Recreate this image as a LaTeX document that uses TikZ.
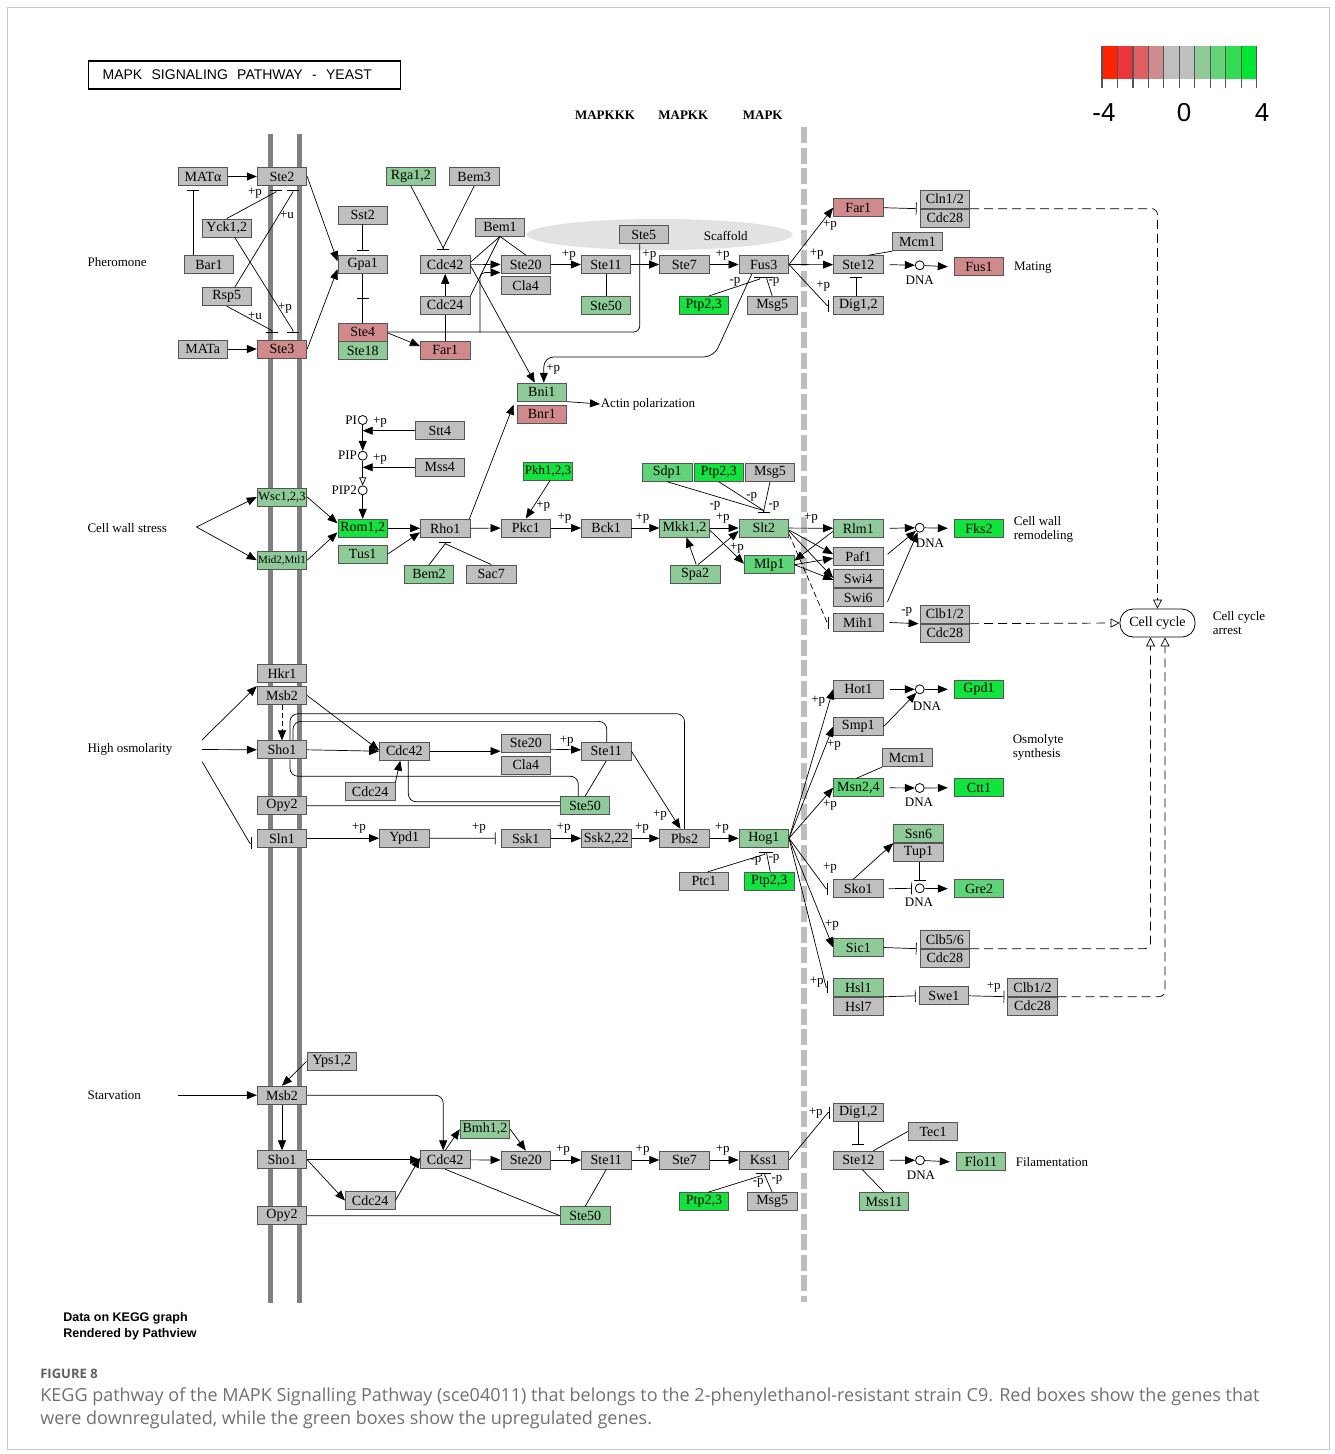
\documentclass[tikz,border=0pt]{standalone}
\usepackage{fontspec}
\setmainfont{Liberation Serif}
\newfontfamily\sansfont{Liberation Sans}
\newfontfamily\capfont{Open Sans}
\usepackage{xcolor}
\usepackage{tikz}
\usetikzlibrary{arrows.meta,positioning,calc}
\definecolor{kgray}{RGB}{191,191,191}
\definecolor{kedge}{RGB}{85,85,85}
\definecolor{kred}{RGB}{209,138,140}
\definecolor{kgreen}{RGB}{143,203,152}
\definecolor{kgreenmid}{RGB}{96,212,120}
\definecolor{kgreenhi}{RGB}{18,228,62}
\definecolor{kmem}{RGB}{128,128,128}
\definecolor{kwall}{RGB}{190,190,190}
\definecolor{kscaf}{RGB}{226,226,226}
\definecolor{capgray}{RGB}{112,112,112}
\definecolor{lgA}{RGB}{255,34,0}
\definecolor{lgB}{RGB}{236,52,60}
\definecolor{lgC}{RGB}{222,96,96}
\definecolor{lgD}{RGB}{207,140,140}
\definecolor{lgE}{RGB}{191,191,191}
\definecolor{lgG}{RGB}{145,202,150}
\definecolor{lgH}{RGB}{100,212,120}
\definecolor{lgI}{RGB}{52,220,84}
\definecolor{lgJ}{RGB}{0,230,50}
\newcommand\genefont{\fontsize{14}{14}\selectfont}
\newcommand\lblfont{\fontsize{13}{13.5}\selectfont}
\newcommand\tightfont{\fontsize{11}{11}\selectfont}

\begin{document}
\begin{tikzpicture}[x=1pt, y=-1pt, line width=0.7pt]
  \tikzset{gene/.style={draw=kedge, fill=kgray, line width=0.9pt, minimum width=49.5pt, minimum height=18pt, inner sep=0pt, font=\genefont}, down/.style={gene, fill=kred}, upA/.style={gene, fill=kgreen}, upB/.style={gene, fill=kgreenmid}, upC/.style={gene, fill=kgreenhi}, dna/.style={circle, draw, minimum size=9pt, inner sep=0pt, line width=0.8pt}, lbl/.style={font=\lblfont, inner sep=0.5pt}, plbl/.style={font=\lblfont, inner sep=0.3pt}, hdr/.style={font=\bfseries\lblfont}}
  \tikzset{act/.style={-{Triangle[length=10pt,width=8pt]}}, inh/.style={-{Bar[width=12pt]}}, cc/.style={dash pattern=on 9pt off 5pt, -{Triangle[open,length=9pt,width=9pt]}, rounded corners=6pt}}
  \useasboundingbox (0,0) rectangle (1335,1454);
  \draw[gray!45, line width=0.8pt] (7,7) rectangle (1329,1449);

  % membrane and cell wall
  \draw[kmem, line width=5pt] (270,134) -- (270,1303);
  \draw[kmem, line width=5pt] (299,134) -- (299,1303);
  \draw[kwall, line width=6.3pt, dash pattern=on 16pt off 4.5pt] (804,127) -- (804,1302);
  \fill[kscaf] (659.7,234.5) ellipse [x radius=133pt, y radius=15.5pt];

  % title and legend
  \node[draw, line width=1.3pt, anchor=west, text width=284pt, align=left, inner xsep=14pt, minimum height=28pt, font=\sansfont\fontsize{14}{14}\selectfont] (title) at (88,75) {MAPK\ \ SIGNALING\ \ PATHWAY\ \ -\ \ YEAST};
  \foreach \c [count=\i from 0] in {lgA,lgB,lgC,lgD,lgE,lgE,lgG,lgH,lgI,lgJ}
    \fill[\c] (1102+15.47*\i,45.7) rectangle ++(15.47,33);
  \foreach \i in {0,...,10}
    \draw[kedge, line width=1.1pt] (1102+15.47*\i,45.7) -- ++(0,42);
  \node[font=\sansfont\fontsize{26}{26}\selectfont] (lgmin) at (1104,112.5) {-4};
  \node[font=\sansfont\fontsize{26}{26}\selectfont] (lgmid) at (1184,112.5) {0};
  \node[font=\sansfont\fontsize{26}{26}\selectfont] (lgmax) at (1262,112.5) {4};

  \node[hdr] (hKKK) at (605,115) {MAPKKK};
  \node[hdr] (hKK) at (683.3,115) {MAPKK};
  \node[hdr] (hK) at (762.7,115) {MAPK};

  % pheromone
  \node[lbl, anchor=west] (pher) at (86.7,262.5) {Pheromone};
  \node[gene] (MATalpha) at (203,176.5) {MATα};
  \node[gene] (Ste2) at (282,176.5) {Ste2};
  \node[gene] (Yck) at (226.7,228) {Yck1,2};
  \node[gene] (Bar1) at (209,264.5) {Bar1};
  \node[gene] (Rsp5) at (226.7,296.7) {Rsp5};
  \node[gene] (MATa) at (202.7,349) {MATa};
  \node[down] (Ste3) at (282,349) {Ste3};
  \node[gene] (Sst2) at (362.7,215) {Sst2};
  \node[gene] (Gpa1) at (362.7,264.3) {Gpa1};
  \node[down] (Ste4) at (362.7,332) {Ste4};
  \node[upA, below=0pt of Ste4] (Ste18) {Ste18};
  \node[upA] (Rga) at (410.8,176.5) {Rga1,2};
  \node[gene] (Bem3) at (474.2,176.5) {Bem3};
  \node[gene] (Bem1) at (500,227) {Bem1};
  \node[gene] (pCdc42) at (445.2,264.3) {Cdc42};
  \node[gene] (pCdc24) at (445.2,305.2) {Cdc24};
  \node[down] (pFar1) at (445.2,350) {Far1};
  \node[gene] (pSte20) at (525.7,264.5) {Ste20};
  \node[gene, below=2pt of pSte20] (pCla4) {Cla4};
  \node[gene] (Ste5) at (643.7,234.5) {Ste5};
  \node[lbl] (scaf) at (725.7,236) {Scaffold};
  \node[gene] (pSte11) at (606,264.5) {Ste11};
  \node[upA] (pSte50) at (606,305.5) {Ste50};
  \node[gene] (pSte7) at (684.3,264.5) {Ste7};
  \node[gene] (Fus3) at (763.8,264.5) {Fus3};
  \node[upC] (pPtp) at (703.7,305.5) {Ptp2,3};
  \node[gene] (pMsg5) at (772.2,305.5) {Msg5};
  \node[upA] (Bni1) at (541.8,392.2) {Bni1};
  \node[down, below=3pt of Bni1] (Bnr1) {Bnr1};
  \node[lbl, anchor=west] (actin) at (600,404) {Actin polarization};
  \node[down] (mFar1) at (858.3,207.7) {Far1};
  \node[gene] (Cln12) at (944.8,199.2) {Cln1/2};
  \node[gene, below=0pt of Cln12] (Cdc28a) {Cdc28};
  \node[gene] (pMcm1) at (917.5,241.7) {Mcm1};
  \node[gene] (pSte12) at (858.3,264.7) {Ste12};
  \node[gene] (pDig) at (858.3,305.5) {Dig1,2};
  \node[dna] (dna1) at (919.7,265.3) {};
  \node[lbl] (dna1t) at (919.7,280.5) {DNA};
  \node[down] (Fus1) at (979,266.7) {Fus1};
  \node[lbl, anchor=west] (mating) at (1013.3,267.3) {Mating};

  \draw[act] (MATalpha) -- (Ste2);
  \draw[act] (MATa) -- (Ste3);
  \draw[inh] ([xshift=-16pt]Bar1.north) -- ([xshift=-10pt,yshift=-4pt]MATalpha.south);
  \draw[inh] (Yck.north) -- ([xshift=-6pt,yshift=-6pt]Ste2.south) -- ++(0,-2);
  \draw[inh] ([xshift=8pt]Rsp5.north) -- ([xshift=11pt,yshift=-6pt]Ste2.south) -- ++(0,-2);
  \draw[inh] ([xshift=8pt]Yck.south) -- ([xshift=11pt,yshift=9pt]Ste3.north) -- ++(0,2);
  \draw[inh] (Rsp5.south) -- ([xshift=-10pt,yshift=9pt]Ste3.north) -- ++(0,2);
  \node[plbl] (t1) at (255,193) {+p};
  \node[plbl] (t2) at (287,215) {+u};
  \node[plbl] (t3) at (285,308.3) {+p};
  \node[plbl] (t4) at (255,316) {+u};
  \draw[act] (Ste2.east) -- ([yshift=3pt]Gpa1.west);
  \draw[act] (Ste3.east) -- ([yshift=-5pt]Gpa1.west);
  \draw[inh] (Sst2.south) -- ([yshift=4pt]Gpa1.north);
  \draw[inh] (Gpa1.south) -- ([yshift=24pt]Ste4.north);
  \draw ([yshift=24pt]Ste4.north) -- (Ste4.north);
  \draw[act] ([yshift=-1pt]Ste4.east) -- ([yshift=4pt]pFar1.west);
  \draw[rounded corners=6pt] (Ste4.east) -| ([xshift=-4pt]Ste5.south);
  \coordinate (ste4fork) at (480,332);
  \draw[act, rounded corners=5pt] (ste4fork) |- ([yshift=-8pt]pSte20.west);
  \draw[act] (pCdc24) -- (pCdc42);
  \draw (pFar1) -- (pCdc24);
  \draw[inh] (Rga.south) -- ([xshift=-2pt,yshift=7pt]pCdc42.north) -- ++(0,2);
  \draw[inh] (Bem3.south) -- ([xshift=-2pt,yshift=7pt]pCdc42.north) -- ++(0,2);
  \draw[act] (pCdc42) -- (pSte20);
  \draw (Bem1.south) -- ([yshift=2pt]pCdc42.east);
  \draw (Bem1.south) -- (pCdc24.north east);
  \draw (Bem1.south) -- (pSte20.north);
  \draw[act] ([yshift=-1pt]pCdc42.east) -- ([xshift=-7pt]Bni1.north);
  \draw[act] (pSte20) -- node[plbl, pos=.6, above=4pt] {+p} (pSte11);
  \draw[act] (pSte11) -- node[plbl, pos=.65, above=4pt] {+p} (pSte7);
  \draw[act] (pSte7) -- node[plbl, pos=.45, above=4pt] {+p} (Fus3);
  \draw (pSte11) -- (pSte50);
  \draw[inh] ([xshift=5pt]pPtp.north) -- ([xshift=-4pt,yshift=-5pt]Fus3.south) -- ++(0,-2);
  \draw[inh] (pMsg5.north) -- ([xshift=3pt,yshift=-5pt]Fus3.south) -- ++(0,-2);
  \node[plbl] (t5) at (735,281.7) {-p};
  \node[plbl] (t6) at (774,281.7) {-p};
  \draw[act, rounded corners=10pt] ([xshift=-12pt]Fus3.south) -- ++(-38,83) -| ([xshift=2pt]Bni1.north);
  \node[plbl] (t7) at (553.3,369.3) {+p};
  \draw[act] (Bni1.south east) -- (actin.west);
  \draw[act] (Fus3.east) -- (mFar1.west);
  \draw[act] (Fus3) -- (pSte12);
  \draw[inh] (Fus3.east) -- ([xshift=-6pt]pDig.west) -- ++(2,0);
  \node[plbl] (t8) at (830,225) {+p};
  \node[plbl] (t9) at (816.7,254) {+p};
  \node[plbl] (t10) at (823.3,286) {+p};
  \draw[inh] (mFar1.east) -- ([xshift=-3pt]Cln12.south west);
  \draw (pMcm1.south west) -- ([xshift=10pt]pSte12.north);
  \draw[inh] ([xshift=-2pt]pDig.north) -- ([xshift=-2pt,yshift=-3pt]pSte12.south);
  \draw[act] ([xshift=6pt]pSte12.east) -- (dna1);
  \draw[act] (dna1) -- ([xshift=-6pt]Fus1.west);

  % cell wall stress
  \node[lbl, anchor=west] (cwstress) at (86.7,528.3) {Cell wall stress};
  \coordinate (cws) at (196.5,527);
  \node[upA, font=\fontsize{12.5}{12}\selectfont] (Wsc) at (282,497) {Wsc1,2,3};
  \node[upA, font=\tightfont] (Mid2) at (282,560.2) {Mid2,Mtl1};
  \node[upC] (Rom) at (362.7,528.3) {Rom1,2};
  \node[upA] (Tus1) at (362.7,554) {Tus1};
  \node[gene] (Rho1) at (445.2,528.3) {Rho1};
  \node[upA] (Bem2) at (429,574.3) {Bem2};
  \node[gene] (Sac7) at (491.3,574) {Sac7};
  \node[gene] (Stt4) at (439.8,430.7) {Stt4};
  \node[gene] (Mss4) at (439.8,467.3) {Mss4};
  \node[dna, label={[lbl]left:PI}] (PI) at (362.7,420) {};
  \node[dna, label={[lbl]left:PIP}] (PIP) at (362.7,455.7) {};
  \node[dna, label={[lbl]left:PIP2}] (PIP2) at (362.7,490.3) {};
  \node[upC, font=\fontsize{13}{13}\selectfont] (Pkh) at (548,471.2) {Pkh1,2,3};
  \node[gene] (Pkc1) at (525.8,528) {Pkc1};
  \node[gene] (Bck1) at (606.2,528) {Bck1};
  \node[upA] (Mkk) at (684.5,528) {Mkk1,2};
  \node[upA] (Slt2) at (763.8,528) {Slt2};
  \node[upB] (Mlp1) at (769.2,564.7) {Mlp1};
  \node[upA] (Spa2) at (695.2,574) {Spa2};
  \node[upB] (Sdp1) at (667.2,472.3) {Sdp1};
  \node[upC] (cPtp) at (718.8,472.3) {Ptp2,3};
  \node[gene] (cMsg5) at (770,472.3) {Msg5};
  \node[upA] (Rlm1) at (858.3,528.3) {Rlm1};
  \node[dna] (dna2) at (919.7,527.7) {};
  \node[lbl] (dna2t) at (930,543.3) {DNA};
  \node[upC] (Fks2) at (979,528.3) {Fks2};
  \node[lbl, anchor=west, align=left] (cwrem) at (1013,529.5) {Cell wall\\remodeling};
  \node[gene] (Paf1) at (858.3,556.2) {Paf1};
  \node[gene] (Swi4) at (858.3,578.8) {Swi4};
  \node[gene, below=0pt of Swi4] (Swi6) {Swi6};
  \node[gene] (Mih1) at (858.3,622.5) {Mih1};
  \node[gene] (Clb12a) at (944.8,614.2) {Clb1/2};
  \node[gene, below=0pt of Clb12a] (Cdc28b) {Cdc28};
  \node[draw, rounded corners=13pt, minimum width=75pt, minimum height=28pt, font=\genefont, line width=0.8pt] (CellCycle) at (1157.5,623) {Cell cycle};
  \node[lbl, anchor=west, align=left] (ccarrest) at (1212,623) {Cell cycle\\arrest};

  \draw[act] (cws) -- (Wsc.west);
  \draw[act] (cws) -- (Mid2.west);
  \draw[act] (Wsc.east) -- ([yshift=5pt]Rom.west);
  \draw[act] (Mid2.east) -- ([yshift=-4pt]Rom.west);
  \draw[act] (Rom) -- (Rho1);
  \draw[act] (Tus1.east) -- ([yshift=-4pt]Rho1.west);
  \draw[inh] (Bem2.north) -- ([yshift=-6pt]Rho1.south) -- ++(0,-2);
  \draw[inh] (Sac7.north) -- ([yshift=-6pt]Rho1.south) -- ++(0,-2);
  \draw[act] ([xshift=-1pt]Rho1.north east) -- ([xshift=-3pt]Bnr1.north west);
  \draw[act] (PI) -- (PIP);
  \draw[act] (Stt4.west) -- (PI |- Stt4.west);
  \draw[act] (Mss4.west) -- (PIP |- Mss4.west);
  \node[plbl] (t11) at (380,422.7) {+p};
  \node[plbl] (t12) at (380,459) {+p};
  \draw[-{Triangle[open,length=8pt,width=7pt]}] (PIP) -- (PIP2);
  \draw[act] (PIP2) -- (Rom);
  \draw[act] ([xshift=2pt]Pkh.south) -- (Pkc1.north);
  \node[plbl] (t13) at (543.3,506) {+p};
  \draw[act] (Rho1) -- (Pkc1);
  \draw[act] (Pkc1) -- node[plbl, pos=.45, above=4pt] {+p} (Bck1);
  \draw[act] (Bck1) -- node[plbl, pos=.4, above=4pt] {+p} (Mkk);
  \draw[act] (Mkk) -- node[plbl, pos=.45, above=4pt] {+p} (Slt2);
  \draw[act] ([yshift=-2pt]Mkk.east) -- ([yshift=1pt]Mlp1.west);
  \node[plbl] (t14) at (737,548.3) {+p};
  \draw[act] ([xshift=1pt]Spa2.north) -- ([xshift=2pt]Mkk.south);
  \draw[act] ([xshift=3pt]Spa2.north) -- ([yshift=-3pt]Slt2.west);
  \draw[inh] (Sdp1.south) -- ([yshift=8pt]Slt2.north) -- ++(0,2);
  \draw[inh] (cPtp.south) -- ([yshift=8pt]Slt2.north) -- ++(0,2);
  \draw[inh] (cMsg5.south) -- ([yshift=8pt]Slt2.north) -- ++(0,2);
  \node[plbl] (t15) at (715,506) {-p};
  \node[plbl] (t16) at (751.7,496.7) {-p};
  \node[plbl] (t17) at (774,506) {-p};
  \draw[act] (Slt2) -- node[plbl, pos=.5, above=4pt] {+p} (Rlm1);
  \draw[act] ([yshift=-2pt]Slt2.east) -- ([yshift=2pt]Paf1.west);
  \draw[act] ([yshift=-3pt]Slt2.east) -- ([yshift=1pt]Swi4.west);
  \draw[act] (Mlp1.east) -- ([yshift=-2pt]Paf1.west);
  \draw[act] (Mlp1.east) -- ([yshift=-1pt]Swi4.west);
  \draw[act] ([yshift=-3pt]Rlm1.west) -- ([yshift=4pt]Mlp1.east);
  \draw[inh, dash pattern=on 6pt off 3pt] ([yshift=-6pt]Slt2.east) -- ([xshift=-6pt]Mih1.west) -- ++(2,0);
  \draw[act] ([xshift=6pt]Rlm1.east) -- (dna2);
  \draw[act] ([xshift=4pt,yshift=2pt]Paf1.east) -- (dna2);
  \draw[act] ([xshift=4pt,yshift=-4pt]Swi6.east) -- (dna2);
  \draw[act] (dna2) -- ([xshift=-6pt]Fks2.west);
  \draw[act] ([xshift=6pt]Mih1.east) -- ([xshift=-1pt]Clb12a.south west);
  \node[plbl] (t18) at (906.7,612.3) {-p};
  \draw[cc] (Clb12a.south east) -- (CellCycle.west);
  \draw[cc] (Cln12.south east) -| (CellCycle.north);

  % high osmolarity
  \node[lbl, anchor=west] (hosmt) at (86.7,749.3) {High osmolarity};
  \coordinate (hosm) at (202,749.5);
  \node[gene] (Hkr1) at (282,673.8) {Hkr1};
  \node[gene] (oMsb2) at (282,695.5) {Msb2};
  \node[gene] (oSho1) at (282,749.8) {Sho1};
  \node[gene] (oOpy2) at (282,805.7) {Opy2};
  \node[gene] (Sln1) at (282,838.2) {Sln1};
  \node[gene] (oCdc42) at (404.3,751.2) {Cdc42};
  \node[gene] (oCdc24) at (370.2,791.8) {Cdc24};
  \node[gene] (Ypd1) at (404.3,838.2) {Ypd1};
  \node[gene] (oSte20) at (525.8,743.3) {Ste20};
  \node[gene, below=3pt of oSte20] (oCla4) {Cla4};
  \node[gene] (oSte11) at (606.3,751.3) {Ste11};
  \node[upA] (oSte50) at (585,805.8) {Ste50};
  \node[gene] (Ssk1) at (525.8,838.3) {Ssk1};
  \node[gene] (Ssk2) at (606.3,838.3) {Ssk2,22};
  \node[gene] (Pbs2) at (684.5,838.3) {Pbs2};
  \node[upA] (Hog1) at (763.8,838.3) {Hog1};
  \node[gene] (Ptc1) at (704,881.2) {Ptc1};
  \node[upC] (oPtp) at (769.3,881.2) {Ptp2,3};
  \node[gene] (Hot1) at (858.3,689.3) {Hot1};
  \node[dna] (dna3) at (919.7,689.3) {};
  \node[lbl] (dna3t) at (927,706) {DNA};
  \node[upC] (Gpd1) at (979,689.3) {Gpd1};
  \node[gene] (Smp1) at (858.3,726.7) {Smp1};
  \node[gene] (oMcm1) at (907.2,757.7) {Mcm1};
  \node[upB] (Msn) at (858.3,787.8) {Msn2,4};
  \node[dna] (dna4) at (919.7,788) {};
  \node[lbl] (dna4t) at (919,802.7) {DNA};
  \node[upC] (Ctt1) at (979,787.8) {Ctt1};
  \node[lbl, anchor=west, align=left] (osmo) at (1012,747.5) {Osmolyte\\synthesis};
  \node[upA] (Ssn6) at (918.5,833.7) {Ssn6};
  \node[gene, below=0pt of Ssn6] (Tup1) {Tup1};
  \node[gene] (Sko1) at (858.3,888.7) {Sko1};
  \node[dna] (dna5) at (919.7,888.3) {};
  \node[lbl] (dna5t) at (919,902.3) {DNA};
  \node[upB] (Gre2) at (979,888.7) {Gre2};
  \node[upA] (Sic1) at (858.3,947.5) {Sic1};
  \node[gene] (Clb56) at (944.8,939.2) {Clb5/6};
  \node[gene, below=0pt of Clb56] (Cdc28c) {Cdc28};
  \node[upA] (Hsl1) at (858.3,987.3) {Hsl1};
  \node[gene, below=0pt of Hsl1] (Hsl7) {Hsl7};
  \node[gene] (Swe1) at (943.8,995.8) {Swe1};
  \node[gene] (Clb12b) at (1032.5,987.2) {Clb1/2};
  \node[gene, below=0pt of Clb12b] (Cdc28d) {Cdc28};

  \draw[act] ([yshift=9.5pt]hosm) -- (oMsb2.north west);
  \draw[act] (hosm) -- (oSho1.west);
  \draw[inh] ([yshift=-12pt]hosm) -- ([xshift=-7pt,yshift=-5pt]Sln1.west) -- ++(2,0);
  \draw[act, dash pattern=on 5pt off 3pt] (oMsb2.south) -- (oSho1.north);
  \draw[act] (oMsb2.east) -- ([yshift=1pt]oCdc42.west);
  \draw[act] (oSho1.east) -- (oCdc42.west);
  \draw[act] (oCdc24.north east) -- ([xshift=-4pt]oCdc42.south);
  \draw[rounded corners=8pt] ([xshift=8pt]oSho1.north) -- ++(0,-26.7) -| (Pbs2.north);
  \draw[rounded corners=8pt] ([xshift=11pt]oSho1.north) -- ++(0,-19) -| ([xshift=0.5pt]oSte11.north);
  \draw[rounded corners=8pt] ([xshift=8pt]oSho1.south) -- ++(0,17) -| ([xshift=-6.7pt]oSte50.north);
  \draw[rounded corners=8pt] ([xshift=4pt]oCdc42.south) |- ([yshift=4pt]oSte50.west);
  \draw (oOpy2) -- (oSte50);
  \draw[act] (oCdc42.east) -- (oCdc42.east -| oSte20.west);
  \draw[act] ([yshift=-6pt]oSte20.east) -- ([yshift=1.5pt]oSte11.west);
  \node[plbl] (t19) at (566.7,741.7) {+p};
  \draw (oSte50.north) -- (oSte11.south);
  \draw[act] (oSte11.east) -- ([xshift=-4pt]Pbs2.north);
  \node[plbl] (t20) at (660,815) {+p};
  \draw[act] (Sln1) -- node[plbl, pos=.72, above=4pt] {+p} (Ypd1);
  \draw[inh] (Ypd1) -- node[plbl, pos=.75, above=4pt] {+p} ([xshift=-5pt]Ssk1.west);
  \draw[act] (Ssk1) -- node[plbl, pos=.42, above=4pt] {+p} (Ssk2);
  \draw[act] (Ssk2) -- node[plbl, pos=.38, above=4pt] {+p} (Pbs2);
  \draw[act] (Pbs2) -- node[plbl, pos=.42, above=4pt] {+p} (Hog1);
  \draw[inh] ([xshift=4pt]Ptc1.north) -- ([xshift=1pt,yshift=-6.5pt]Hog1.south) -- ++(0,-2);
  \draw[inh] ([xshift=1pt]oPtp.north) -- ([xshift=3pt,yshift=-6.5pt]Hog1.south) -- ++(0,-2);
  \node[plbl] (t21) at (756,860.7) {-p};
  \node[plbl] (t22) at (774,859.3) {-p};
  \draw[act] (Hog1.east) -- (Hot1.west);
  \draw[act] (Hog1.east) -- (Smp1.west);
  \draw[act] (Hog1.east) -- (Msn.west);
  \draw[inh] (Hog1.east) -- ([xshift=-7pt]Sko1.west) -- ++(2,0);
  \draw[act] (Hog1.east) -- (Sic1.west);
  \draw[inh] (Hog1.east) -- ([xshift=-7pt]Hsl1.west) -- ++(2,0);
  \node[plbl] (t23) at (818.3,701.7) {+p};
  \node[plbl] (t24) at (834,745) {+p};
  \node[plbl] (t25) at (830,805) {+p};
  \node[plbl] (t26) at (830,868.3) {+p};
  \node[plbl] (t27) at (832,925) {+p};
  \node[plbl] (t28) at (816.7,981.7) {+p};
  \draw[act] ([xshift=6pt]Hot1.east) -- (dna3);
  \draw[act] (Smp1.east) -- (dna3);
  \draw[act] (dna3) -- ([xshift=-6pt]Gpd1.west);
  \draw (oMcm1.south west) -- ([xshift=-2pt]Msn.north);
  \draw[act] ([xshift=6pt]Msn.east) -- (dna4);
  \draw[act] (dna4) -- ([xshift=-6pt]Ctt1.west);
  \draw[act] ([xshift=-5pt]Sko1.north) -- (Ssn6.south west);
  \draw[inh] ([xshift=5pt]Sko1.east) -- ([xshift=-3pt]dna5.west);
  \draw[inh] (Tup1.south -| dna5) -- ([yshift=3pt]dna5.north);
  \draw[act] (dna5) -- ([xshift=-6pt]Gre2.west);
  \draw[inh] (Sic1.east) -- ([xshift=-3pt]Clb56.south west);
  \draw[inh] (Hsl1.south east) -- ([xshift=-3pt]Swe1.west);
  \draw[inh] (Swe1.east) -- node[plbl, pos=.7, above=3pt] {+p} ([xshift=-3pt]Clb12b.south west);
  \draw[cc] (Clb56.south east) -| ([xshift=-7pt]CellCycle.south);
  \draw[cc] (Clb12b.south east) -| ([xshift=7.5pt]CellCycle.south);

  % starvation
  \node[lbl, anchor=west] (starvt) at (86.7,1095.7) {Starvation};
  \coordinate (starv) at (178,1095.2);
  \node[gene] (Yps) at (331.7,1061.3) {Yps1,2};
  \node[gene] (sMsb2) at (282,1095.2) {Msb2};
  \node[gene] (sSho1) at (282,1159.8) {Sho1};
  \node[gene] (sOpy2) at (282,1215.8) {Opy2};
  \node[gene] (sCdc24) at (370.2,1200.5) {Cdc24};
  \node[gene] (sCdc42) at (445.2,1159.8) {Cdc42};
  \node[upA] (Bmh) at (485,1129.2) {Bmh1,2};
  \node[gene] (sSte20) at (525.8,1160) {Ste20};
  \node[gene] (sSte11) at (606.3,1160) {Ste11};
  \node[gene] (sSte7) at (684.5,1160) {Ste7};
  \node[gene] (Kss1) at (763.8,1160) {Kss1};
  \node[upA] (sSte50) at (585.2,1215.7) {Ste50};
  \node[upC] (sPtp) at (704,1201.7) {Ptp2,3};
  \node[gene] (sMsg5) at (772.2,1201.7) {Msg5};
  \node[gene] (sDig) at (858.3,1112.5) {Dig1,2};
  \node[gene] (Tec1) at (933,1131.5) {Tec1};
  \node[gene] (sSte12) at (858.3,1160.2) {Ste12};
  \node[dna] (dna6) at (920,1160.3) {};
  \node[lbl] (dna6t) at (921,1175) {DNA};
  \node[upA] (Flo11) at (981,1161.8) {Flo11};
  \node[upA] (Mss11) at (884,1201.5) {Mss11};
  \node[lbl, anchor=west] (filam) at (1015,1162) {Filamentation};

  \draw[act] (starv) -- (sMsb2.west);
  \draw[act] (Yps.west) -- (sMsb2.north);
  \draw[act] (sMsb2) -- (sSho1);
  \draw[act, rounded corners=8pt] (sMsb2.east) -| ([xshift=-2pt]sCdc42.north);
  \draw[act] (sSho1) -- (sCdc42);
  \draw[act] (sSho1.east) -- (sCdc24.west);
  \draw[act] (sCdc24.east) -- ([yshift=2pt]sCdc42.west);
  \draw[act] (sCdc42.north) -- (Bmh.west);
  \draw[act] (Bmh.east) -- (sSte20.north);
  \draw[act] (sCdc42) -- (sSte20);
  \draw[act] (sSte20) -- node[plbl, pos=.4, above=4pt] {+p} (sSte11);
  \draw[act] (sSte11) -- node[plbl, pos=.4, above=4pt] {+p} (sSte7);
  \draw[act] (sSte7) -- node[plbl, pos=.45, above=4pt] {+p} (Kss1);
  \draw (sCdc42.south) -- (sSte50.west);
  \draw (sOpy2) -- (sSte50);
  \draw (sSte11.south) -- (sSte50.north);
  \draw[inh] ([xshift=4pt]sPtp.north) -- ([xshift=-2pt,yshift=-6pt]Kss1.south) -- ++(0,-2);
  \draw[inh] (sMsg5.north) -- ([xshift=1pt,yshift=-6pt]Kss1.south) -- ++(0,-2);
  \node[plbl] (t29) at (758.3,1183.3) {-p};
  \node[plbl] (t30) at (777,1180) {-p};
  \draw[inh] (Kss1.east) -- ([xshift=-5pt]sDig.west) -- ++(2,0);
  \node[plbl] (t31) at (815.8,1113.3) {+p};
  \draw[inh] (sDig.south) -- ([yshift=6pt]sSte12.north);
  \draw (Tec1.west) -- ([xshift=15pt]sSte12.north);
  \draw (Mss11.north) -- ([xshift=4pt]sSte12.south);
  \draw[act] ([xshift=6pt]sSte12.east) -- (dna6);
  \draw[act] (dna6) -- ([xshift=-6pt]Flo11.west);

  % footer and caption
  \node[anchor=west, align=left, font=\sansfont\bfseries\fontsize{12.5}{16}\selectfont, inner sep=0pt] (pathview) at (63,1326) {Data on KEGG graph\\Rendered by Pathview};
  \node[anchor=west, font=\capfont\bfseries\fontsize{13}{13}\selectfont, text=capgray!85!black, inner sep=0pt] (figno) at (40,1374) {FIGURE 8};
  \node[anchor=north west, align=left, font=\capfont\fontsize{18}{23.5}\selectfont, text=capgray, inner sep=0pt] (caption) at (40,1387) {KEGG pathway of the MAPK Signalling Pathway (sce04011) that belongs to the 2-phenylethanol-resistant strain C9. Red boxes show the genes that\\were downregulated, while the green boxes show the upregulated genes.};
\end{tikzpicture}
\end{document}
